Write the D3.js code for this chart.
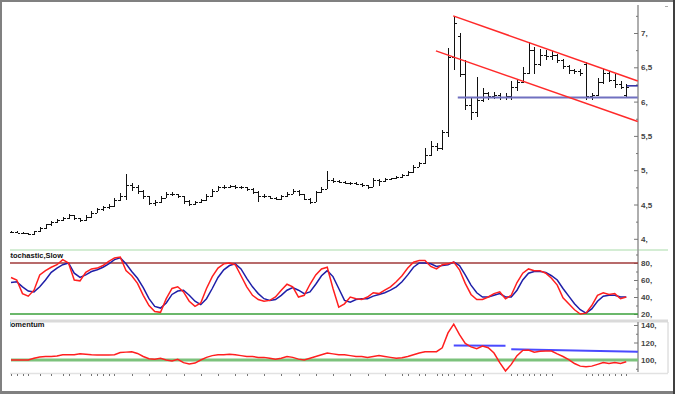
<!DOCTYPE html>
<html>
<head>
<meta charset="utf-8">
<script src="https://cdnjs.cloudflare.com/ajax/libs/d3/7.8.5/d3.min.js"></script>
<style>
  body { margin: 0; background: #fff; }
  text { font-family: "Liberation Sans", Arial, sans-serif; }
</style>
</head>
<body>
<div id="chart"></div>
<script>
// PRICE + STOCHASTIC + MOMENTUM CHART

// 1. Data (one entry per bar)
var opens = [4.10,4.10,4.09,4.08,4.07,4.11,4.16,4.21,4.25,4.27,4.30,4.34,4.30,4.27,4.32,4.38,4.43,4.46,4.48,4.56,
  4.63,4.78,4.76,4.70,4.62,4.52,4.53,4.60,4.66,4.65,4.62,4.55,4.51,4.53,4.56,4.62,4.70,4.75,4.76,4.77,
  4.75,4.75,4.73,4.68,4.62,4.62,4.60,4.58,4.62,4.66,4.70,4.65,4.58,4.54,4.68,4.73,4.86,4.84,4.83,4.82,
  4.81,4.80,4.78,4.76,4.85,4.84,4.87,4.88,4.90,4.93,4.97,5.05,5.10,5.22,5.35,5.32,5.55,6.65,6.95,6.40,
  5.95,5.85,6.02,6.12,6.08,6.10,6.07,6.08,6.22,6.28,6.42,6.75,6.55,6.68,6.66,6.68,6.60,6.52,6.46,6.45,
  6.55,6.08,6.10,6.28,6.42,6.32,6.26,6.10];
var highs = [4.12,4.11,4.10,4.09,4.12,4.17,4.22,4.26,4.29,4.32,4.36,4.35,4.31,4.34,4.40,4.45,4.48,4.51,4.59,4.67,
  4.94,4.82,4.78,4.71,4.63,4.56,4.63,4.68,4.68,4.66,4.63,4.56,4.55,4.58,4.65,4.72,4.77,4.78,4.79,4.78,
  4.77,4.76,4.74,4.70,4.65,4.63,4.61,4.64,4.68,4.73,4.71,4.66,4.59,4.70,4.75,4.99,4.88,4.85,4.84,4.83,
  4.83,4.81,4.79,4.88,4.87,4.88,4.89,4.91,4.95,4.99,5.07,5.12,5.33,5.42,5.40,5.58,6.78,7.24,7.00,6.60,
  6.07,6.36,6.20,6.14,6.14,6.12,6.12,6.30,6.32,6.50,6.87,6.80,6.76,6.75,6.74,6.70,6.62,6.54,6.48,6.47,
  6.58,6.12,6.35,6.48,6.45,6.40,6.30,6.25];
var lows = [4.08,4.08,4.07,4.05,4.06,4.10,4.15,4.19,4.23,4.26,4.29,4.28,4.24,4.26,4.31,4.37,4.41,4.44,4.47,4.55,
  4.57,4.70,4.66,4.58,4.49,4.48,4.52,4.59,4.62,4.59,4.51,4.48,4.49,4.52,4.55,4.61,4.69,4.73,4.74,4.73,
  4.72,4.70,4.66,4.53,4.60,4.58,4.56,4.57,4.61,4.65,4.63,4.56,4.51,4.53,4.67,4.72,4.82,4.81,4.80,4.79,
  4.78,4.76,4.73,4.75,4.77,4.83,4.85,4.87,4.89,4.92,4.96,5.04,5.09,5.20,5.28,5.29,5.48,6.46,6.36,5.88,
  5.73,5.78,6.00,6.02,6.04,6.03,6.02,6.02,6.15,6.27,6.40,6.40,6.52,6.60,6.60,6.56,6.48,6.40,6.40,6.38,
  6.03,6.02,6.08,6.26,6.28,6.20,6.18,6.05];
var closes = [4.10,4.09,4.08,4.07,4.11,4.16,4.21,4.25,4.27,4.30,4.34,4.30,4.27,4.32,4.38,4.43,4.46,4.48,4.56,4.63,
  4.78,4.76,4.70,4.62,4.52,4.53,4.60,4.66,4.65,4.62,4.55,4.51,4.53,4.56,4.62,4.70,4.75,4.76,4.77,4.75,
  4.75,4.73,4.68,4.62,4.62,4.60,4.58,4.62,4.66,4.70,4.65,4.58,4.54,4.68,4.73,4.86,4.84,4.83,4.82,4.81,
  4.80,4.78,4.76,4.85,4.84,4.87,4.88,4.90,4.93,4.97,5.05,5.10,5.22,5.35,5.32,5.55,6.65,7.15,6.40,5.95,
  5.85,6.02,6.12,6.08,6.10,6.07,6.08,6.22,6.28,6.42,6.75,6.55,6.68,6.66,6.68,6.60,6.52,6.46,6.45,6.42,
  6.08,6.10,6.28,6.42,6.32,6.26,6.22,6.22];

// Stochastic slow: %K (red) and %D (blue)
var stochK = [63,60,44,41,48,66,71,75,78,84,80,60,59,69,73,74,77,82,86,87,
  71,65,56,42,30,23,22,38,50,52,46,35,29,33,50,64,74,79,80,78,
  65,52,42,37,35,36,40,48,55,52,40,42,55,66,73,75,50,28,32,40,
  38,37,40,45,44,48,52,58,65,74,81,83,83,76,73,78,79,81,72,56,
  43,37,37,40,44,46,38,42,57,68,73,71,71,68,62,54,39,32,25,20,
  21,30,42,45,43,44,38,40];
var stochD = [57,58,52,47,46,52,60,69,74,78,80,68,63,66,70,72,75,79,84,86,
  79,70,62,51,38,29,27,33,43,47,48,42,35,31,38,50,63,72,77,79,
  73,62,52,44,38,36,37,42,48,51,48,44,46,55,65,71,64,50,36,34,
  37,38,38,41,43,45,48,52,58,66,75,80,80,79,76,77,78,81,77,66,
  54,45,40,40,42,44,40,40,48,60,68,70,70,69,65,60,50,41,32,25,
  21,26,35,41,42,42,40,40];

// Momentum
var momentum = [100,100,100,100,102,103.5,104,104,104.5,106,106,106,107,106.5,106,105.7,105.7,105.7,106,108.5,
  109,109.5,107.5,104,101.5,100.8,102,100,99,100.8,97,95.4,96.5,100,103,105,106,106,106.5,106,
  105,104,104,103,103,102,101,102,104,103,101,100,102,104,106,108,107,106,106,105,
  104,104,103,104,105,104,103,102,102.5,104,106,108,109.5,109.5,109.5,114,131,141,129,119,
  115,113,116,114,108,97,87.5,95,105,111,111.5,109,110,110.3,110.3,107,104,100.5,96,93,
  92.4,93,95,97,96,97,96,98];

// Drawn lines: [bar index, value] end points
var channelUpper = [[76.9, 7.25], [109.0, 6.30]];
var channelLower = [[73.9, 6.74], [109.0, 5.71]];
var supportLine = [[77.7, 6.06], [109.0, 6.06]];
var lastPrice = [[107.1, 6.23], [109.0, 6.23]];
var momLine1 = [[77, 116.6], [86, 116.2]];
var momLine2 = [[87, 112.2], [109.0, 109.3]];

// Tick labels
var priceTicks = [4, 4.5, 5, 5.5, 6, 6.5, 7];
var priceMinor = [4.25, 4.75, 5.25, 5.75, 6.25, 6.75, 7.25];
var stochTicks = [20, 40, 60, 80];
var stochMinor = [30, 50, 70, 90];
var momTicks = [100, 120, 140];
var momMinor = [90, 110, 130];
var dateTicks = [0,1,2,3,5,7,9,10,12,14,15,16,17,18,21,24,27,30,33,36,39,41,44,47,50,53,56,59,62,65,
  68,69,71,72,74,75,76,77,79,80,82,87,88,89,90,91,92,93,94,100,101,102,103,104,105,106,107];

// 2. SVG area
var svgWidth = 675;
var svgHeight = 394;

var svg = d3.select("#chart")
  .append("svg")
  .attr("width", svgWidth)
  .attr("height", svgHeight);

var axisX = 638;

// Scales
var xScale = d3.scaleLinear().domain([0, 107]).range([11, 626.25]);
var yPrice = d3.scaleLinear().domain([4, 7]).range([238.8, 33]);
var yStoch = d3.scaleLinear().domain([20, 80]).range([314, 263]);
var yMom = d3.scaleLinear().domain([100, 140]).range([360, 325]);

// Format like "6,5" / "7,"
function euro(d) {
  var s = String(d).replace(".", ",");
  return s.indexOf(",") < 0 ? s + "," : s;
}

// Clip for the plotting area
svg.append("clipPath").attr("id", "plotClip")
  .append("rect").attr("x", 10).attr("y", 0).attr("width", axisX - 10).attr("height", 394);

// 3. Panel frames
svg.append("line").attr("x1", 10).attr("x2", 668).attr("y1", 250).attr("y2", 250)
  .attr("stroke", "#a9dba9").attr("stroke-width", 1.2);
svg.append("line").attr("x1", 10).attr("x2", 668).attr("y1", 321).attr("y2", 321)
  .attr("stroke", "#dadada").attr("stroke-width", 3);
svg.append("line").attr("x1", 10).attr("x2", 668).attr("y1", 373.5).attr("y2", 373.5)
  .attr("stroke", "#e2e2e2").attr("stroke-width", 1.5);
svg.append("line").attr("x1", 668).attr("x2", 668).attr("y1", 322).attr("y2", 373)
  .attr("stroke", "#d0d0d0").attr("stroke-width", 1);

// Right axes
function drawAxis(scale, major, minor, y1, y2, labels) {
  var g = svg.append("g").attr("transform", `translate(${axisX}, 0)`);
  g.append("line").attr("x1", 0).attr("x2", 0).attr("y1", y1).attr("y2", y2)
    .attr("stroke", "#9a9a9a").attr("stroke-width", 1.6);
  var majorAxis = d3.axisRight(scale).tickValues(major).tickSize(-4).tickPadding(3)
    .tickFormat(labels ? euro : "");
  var minorAxis = d3.axisRight(scale).tickValues(minor).tickSize(-2).tickFormat("");
  var a = g.append("g").call(majorAxis);
  var b = g.append("g").call(minorAxis);
  [a, b].forEach(function (s) {
    s.select(".domain").remove();
    s.selectAll("line").attr("stroke", "#777");
  });
  a.selectAll("text")
    .attr("font-size", "8px")
    .attr("font-weight", "bold")
    .attr("fill", "#444");
}

drawAxis(yPrice, priceTicks, priceMinor, 5, 247, true);
drawAxis(yStoch, stochTicks, stochMinor, 247, 318, true);
drawAxis(yMom, momTicks, momMinor, 322, 372, true);

// 4. Price bars
var plot = svg.append("g").attr("clip-path", "url(#plotClip)");
var bars = plot.append("g").attr("shape-rendering", "crispEdges")
  .selectAll("g").data(closes).enter().append("g");

bars.append("line")
  .attr("x1", (d, i) => Math.round(xScale(i)) + 0.5)
  .attr("x2", (d, i) => Math.round(xScale(i)) + 0.5)
  .attr("y1", (d, i) => yPrice(highs[i]))
  .attr("y2", (d, i) => yPrice(lows[i]))
  .attr("stroke", "#111").attr("stroke-width", 1);
bars.append("line")
  .attr("x1", (d, i) => Math.round(xScale(i)) - 2)
  .attr("x2", (d, i) => Math.round(xScale(i)))
  .attr("y1", (d, i) => Math.round(yPrice(opens[i])) + 0.5)
  .attr("y2", (d, i) => Math.round(yPrice(opens[i])) + 0.5)
  .attr("stroke", "#111");
bars.append("line")
  .attr("x1", (d, i) => Math.round(xScale(i)) + 1)
  .attr("x2", (d, i) => Math.round(xScale(i)) + 3)
  .attr("y1", d => Math.round(yPrice(d)) + 0.5)
  .attr("y2", d => Math.round(yPrice(d)) + 0.5)
  .attr("stroke", "#111");

// Drawn lines on price panel
var priceLine = d3.line().x(d => xScale(d[0])).y(d => yPrice(d[1]));
plot.append("path").attr("d", priceLine(supportLine))
  .attr("stroke", "#7070c0").attr("stroke-width", 2).attr("fill", "none");
plot.append("path").attr("d", priceLine(lastPrice))
  .attr("stroke", "#2a2aa0").attr("stroke-width", 1.5).attr("fill", "none");
[channelUpper, channelLower].forEach(function (l) {
  plot.append("path").attr("d", priceLine(l))
    .attr("stroke", "#ff2a2a").attr("stroke-width", 1.5).attr("fill", "none");
});

// 5. Stochastic panel
plot.append("line").attr("x1", 10).attr("x2", axisX).attr("y1", yStoch(80)).attr("y2", yStoch(80))
  .attr("stroke", "#a03a3a").attr("stroke-width", 1.5);
plot.append("line").attr("x1", 10).attr("x2", axisX).attr("y1", yStoch(20)).attr("y2", yStoch(20))
  .attr("stroke", "#3aa03a").attr("stroke-width", 1.5);

var stochLine = d3.line().x((d, i) => xScale(i)).y(d => yStoch(d));
plot.append("path").attr("d", stochLine(stochD))
  .attr("stroke", "#1f1fa8").attr("stroke-width", 1.5).attr("fill", "none");
plot.append("path").attr("d", stochLine(stochK))
  .attr("stroke", "#ff1f1f").attr("stroke-width", 1.5).attr("fill", "none");

// 6. Momentum panel
plot.append("line").attr("x1", 11).attr("x2", axisX).attr("y1", yMom(100)).attr("y2", yMom(100))
  .attr("stroke", "#7cc27c").attr("stroke-width", 3);

var momLine = d3.line().x(d => xScale(d[0])).y(d => yMom(d[1]));
[momLine1, momLine2].forEach(function (l) {
  plot.append("path").attr("d", momLine(l))
    .attr("stroke", "#4a4aff").attr("stroke-width", 2).attr("fill", "none");
});
plot.append("path").attr("d", d3.line().x((d, i) => xScale(i)).y(d => yMom(d))(momentum))
  .attr("stroke", "#ff1f1f").attr("stroke-width", 1.5).attr("fill", "none");

// Date ticks along the bottom
svg.append("g").attr("shape-rendering", "crispEdges")
  .selectAll("line").data(dateTicks).enter().append("line")
  .attr("x1", d => Math.round(xScale(d)) + 0.5)
  .attr("x2", d => Math.round(xScale(d)) + 0.5)
  .attr("y1", 374).attr("y2", 376)
  .attr("stroke", "#777");

// Panel titles (cut at the left edge)
var titles = plot.append("g");
titles.append("text").attr("x", 5.5).attr("y", 257.5)
  .attr("font-size", "7.5px").attr("font-weight", "bold").attr("fill", "#111")
  .text("Stochastic,Slow");
titles.append("text").attr("x", 4.5).attr("y", 326.5)
  .attr("font-size", "7.5px").attr("font-weight", "bold").attr("fill", "#111")
  .text("Momentum");

// 7. Outer frame
svg.append("rect").attr("x", 0).attr("y", 0).attr("width", 675).attr("height", 2).attr("fill", "#808080");
svg.append("rect").attr("x", 0).attr("y", 0).attr("width", 2).attr("height", 394).attr("fill", "#808080");
svg.append("rect").attr("x", 0).attr("y", 391).attr("width", 675).attr("height", 3).attr("fill", "#808080");
svg.append("rect").attr("x", 673).attr("y", 0).attr("width", 2).attr("height", 394).attr("fill", "#404040");
svg.append("line").attr("x1", 665).attr("x2", 668).attr("y1", 6.5).attr("y2", 6.5).attr("stroke", "#aaa");
</script>
</body>
</html>
